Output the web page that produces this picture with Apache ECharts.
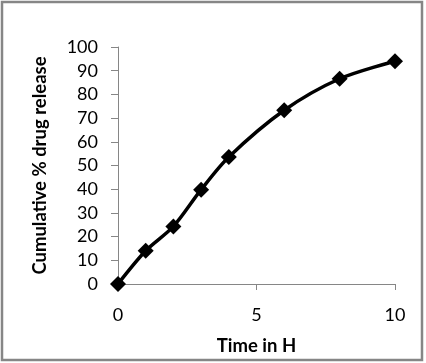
<!DOCTYPE html>
<html><head><meta charset="utf-8">
<script src="https://cdn.jsdelivr.net/npm/echarts@6/dist/echarts.min.js"></script>
<style>html,body{margin:0;padding:0;background:#fff}#c{width:426px;height:363px}</style>
</head><body><div id="c"></div>
<script>
const timeH = [0, 1, 2, 3, 4, 6, 8, 10];
const release = [0, 14, 24.3, 39.8, 53.6, 73.3, 86.6, 94];
const xTicks = [0, 5, 10];
const yTicks = [0, 10, 20, 30, 40, 50, 60, 70, 80, 90, 100];

const chart = echarts.init(document.getElementById('c'), null, {renderer: 'canvas'});
const font = 'Lato';
chart.setOption({
  animation: false,
  backgroundColor: '#fff',
  graphic: [{type: 'rect', shape: {x: 2, y: 2, width: 420, height: 358}, style: {fill: 'none', stroke: '#868686', lineWidth: 2.5}}],
  grid: {left: 118, right: 31, top: 47, bottom: 79},
  xAxis: {
    type: 'value', min: xTicks[0], max: xTicks[xTicks.length - 1], interval: 5,
    name: 'Time in H', nameLocation: 'middle', nameGap: 53,
    nameTextStyle: {fontFamily: font, fontWeight: 'bold', fontSize: 18.5, color: '#000'},
    axisLine: {lineStyle: {color: '#868686', width: 1}},
    axisTick: {show: true, length: 6, lineStyle: {color: '#868686'}},
    axisLabel: {fontFamily: font, fontSize: 18, color: '#000', margin: 22},
    splitLine: {show: false}
  },
  yAxis: {
    type: 'value', min: yTicks[0], max: yTicks[yTicks.length - 1], interval: 10,
    name: 'Cumulative % drug release', nameLocation: 'middle', nameGap: 68,
    nameTextStyle: {fontFamily: font, fontWeight: 'bold', fontSize: 18.5, color: '#000'},
    axisLine: {show: true, lineStyle: {color: '#868686', width: 1}},
    axisTick: {show: true, length: 7, lineStyle: {color: '#868686'}},
    axisLabel: {fontFamily: font, fontSize: 18, color: '#000', margin: 20},
    splitLine: {show: false}
  },
  series: [{
    type: 'line', smooth: 0.3,
    data: timeH.map((t, i) => [t, release[i]]),
    lineStyle: {color: '#000', width: 3.5},
    itemStyle: {color: '#000'},
    symbol: 'diamond', symbolSize: 16
  }]
});
</script></body></html>
